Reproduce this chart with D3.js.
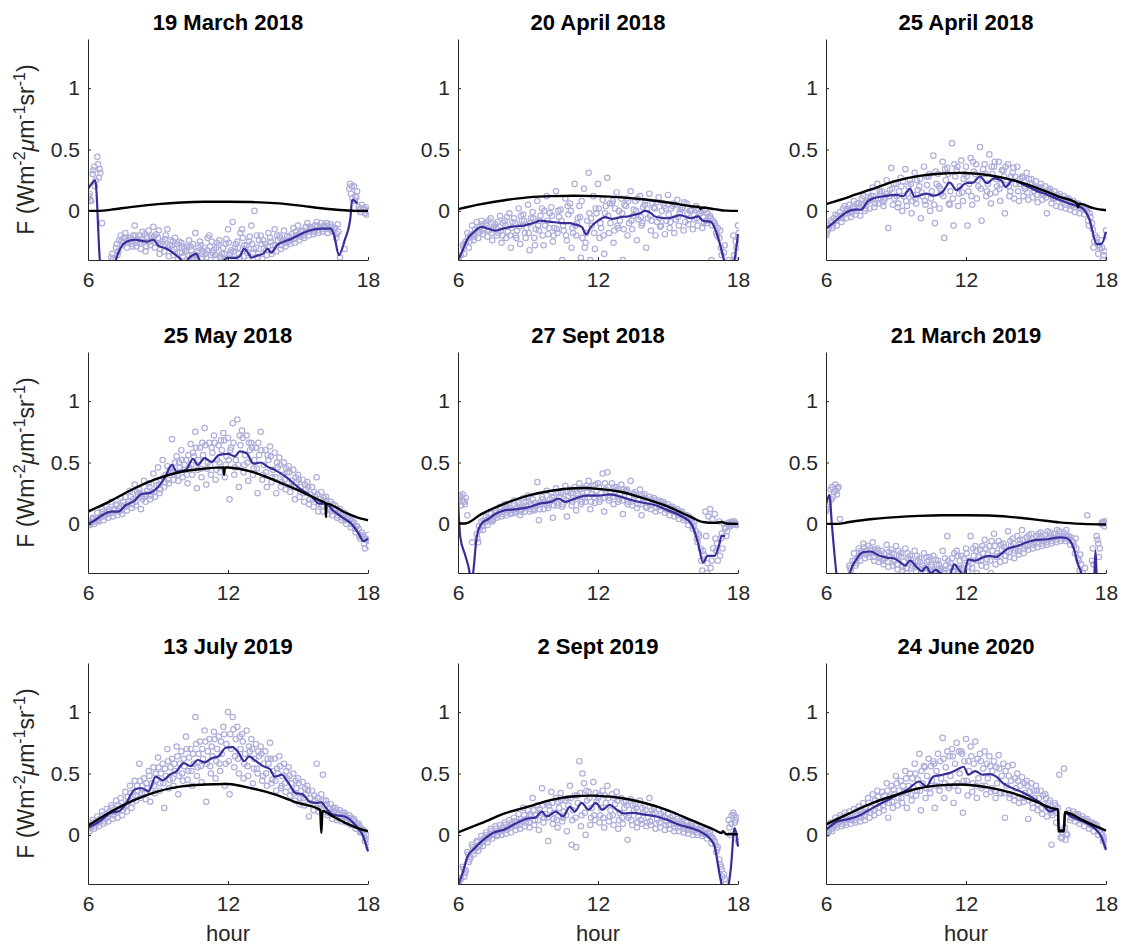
<!DOCTYPE html>
<html>
<head>
<meta charset="utf-8">
<script src="https://cdn.jsdelivr.net/npm/d3@7"></script>
<style>
  body { margin: 0; background: #fff; }
  svg { display: block; font-family: "Liberation Sans", Arial, Helvetica, sans-serif; }
</style>
</head>
<body>
<div id="chart"></div>
<script>
// panel titles, left to right, top to bottom
var titles = ["19 March 2018", "20 April 2018", "25 April 2018",
              "25 May 2018", "27 Sept 2018", "21 March 2019",
              "13 July 2019", "2 Sept 2019", "24 June 2020"];

var xTicks = [6, 12, 18];
var yTicks = [0, 0.5, 1];

// scatter samples: every 0.2 h from 6 to 18, five samples per slot
var sampleHours = d3.range(61).map(function (i) { return 6 + i * 0.2; });
var sampleOffsets = [0, 0.067, 0.133, 0.033, 0.1];

var scatter1 = [
  [0.10,0.30,0.44,-0.10,null,-0.38,-0.30,-0.20,-0.18,-0.22,-0.12,-0.20,-0.25,-0.16,-0.13,-0.22,-0.25,-0.15,-0.28,-0.30,-0.26,-0.33,-0.29,-0.18,-0.25,-0.30,-0.20,-0.32,-0.28,-0.30,-0.15,-0.09,-0.25,-0.15,-0.28,-0.12,-0.30,-0.20,-0.27,-0.22,-0.15,-0.20,-0.16,-0.25,-0.14,-0.12,-0.16,-0.10,-0.14,-0.09,-0.10,-0.12,-0.11,-0.14,-0.38,-0.31,0.18,0.20,0.03,0.01,0.00],
  [0.14,0.36,0.27,null,null,-0.40,-0.36,-0.28,-0.30,-0.27,-0.29,-0.31,-0.33,-0.28,-0.30,-0.35,-0.33,-0.37,-0.36,-0.39,-0.37,-0.40,-0.36,-0.39,-0.35,-0.38,-0.36,-0.39,-0.37,-0.40,-0.36,-0.39,-0.35,-0.37,-0.40,-0.34,-0.38,-0.39,-0.36,-0.35,-0.33,-0.31,-0.29,-0.27,-0.26,-0.24,-0.22,-0.20,-0.19,-0.18,-0.17,-0.18,-0.16,-0.19,null,null,0.14,0.12,-0.01,-0.02,0.01],
  [0.08,0.25,0.31,null,null,null,-0.24,-0.22,-0.26,-0.20,-0.24,-0.17,-0.21,-0.22,-0.19,-0.27,-0.20,-0.24,-0.22,-0.34,-0.31,-0.24,-0.38,-0.30,-0.33,-0.22,-0.34,-0.26,-0.35,-0.23,-0.32,-0.27,-0.18,-0.31,-0.21,0.00,-0.24,-0.31,-0.18,-0.28,-0.24,-0.25,-0.21,-0.19,-0.20,-0.17,-0.13,-0.15,-0.12,-0.14,-0.13,-0.15,-0.14,-0.17,null,null,0.10,0.16,0.05,-0.03,0.00],
  [0.12,0.33,0.38,null,null,-0.35,-0.27,-0.25,-0.22,-0.25,-0.20,-0.26,-0.19,-0.25,-0.21,-0.16,-0.28,-0.30,-0.25,-0.27,-0.34,-0.29,-0.32,-0.36,-0.28,-0.35,-0.29,-0.36,-0.24,-0.35,-0.26,-0.33,-0.30,-0.22,-0.34,-0.27,-0.20,-0.27,-0.32,-0.25,-0.28,-0.22,-0.24,-0.21,-0.23,-0.19,-0.20,-0.17,-0.16,-0.12,-0.15,-0.10,-0.13,-0.22,null,null,0.22,0.08,0.01,0.02,-0.01],
  [0.09,0.20,0.34,null,null,null,-0.33,-0.26,-0.24,-0.29,-0.26,-0.23,-0.29,-0.20,-0.26,-0.31,-0.23,-0.28,-0.31,-0.25,-0.29,-0.36,-0.27,-0.33,-0.38,-0.32,-0.25,-0.30,-0.38,-0.27,-0.34,-0.30,-0.38,-0.28,-0.25,-0.31,-0.35,-0.24,-0.29,-0.32,-0.20,-0.28,-0.26,-0.23,-0.17,-0.21,-0.18,-0.13,-0.17,-0.16,-0.12,-0.14,-0.17,-0.11,null,null,0.20,0.11,0.02,0.03,-0.02]
];
var scatter2 = [
  [-0.40,-0.28,-0.18,-0.12,-0.09,-0.08,-0.10,-0.06,-0.11,-0.04,-0.08,-0.02,-0.06,0.02,-0.03,0.05,-0.01,0.08,0.02,0.12,0.03,0.16,0.01,0.10,0.06,0.22,0.04,0.18,0.31,0.12,0.22,0.09,0.27,0.06,0.15,0.10,0.04,0.16,0.08,0.12,0.05,0.14,0.03,0.11,0.06,0.13,0.04,0.09,0.02,0.06,0.00,0.04,-0.02,0.01,-0.04,-0.10,-0.22,-0.34,-0.40,-0.20,-0.12],
  [null,-0.35,-0.30,-0.24,-0.22,-0.19,-0.21,-0.24,-0.20,-0.26,-0.22,-0.30,-0.20,-0.27,-0.18,-0.32,-0.22,-0.16,-0.28,-0.19,-0.25,-0.18,-0.40,-0.24,-0.30,-0.20,-0.38,-0.26,-0.40,-0.31,-0.22,-0.35,-0.18,-0.26,-0.14,-0.40,-0.20,-0.15,-0.24,-0.12,-0.30,-0.16,-0.20,-0.13,-0.19,-0.14,-0.18,-0.12,-0.16,-0.11,-0.15,-0.12,-0.14,-0.10,-0.40,-0.18,-0.30,null,null,-0.40,-0.15],
  [-0.36,-0.25,-0.20,-0.15,-0.13,-0.14,-0.16,-0.13,-0.18,-0.10,-0.17,-0.09,-0.16,-0.08,-0.14,-0.06,-0.15,-0.04,-0.12,-0.02,-0.14,-0.05,-0.16,-0.03,-0.18,-0.06,-0.22,-0.08,-0.12,-0.02,-0.14,0.04,-0.10,0.02,-0.08,0.05,-0.10,0.01,-0.07,0.03,-0.06,0.06,-0.09,0.00,-0.08,0.02,-0.07,0.01,-0.09,0.00,-0.07,-0.02,-0.09,-0.05,-0.08,-0.14,null,null,null,-0.30,-0.13],
  [-0.38,-0.30,-0.22,-0.19,-0.16,-0.11,-0.12,-0.18,-0.14,-0.16,-0.12,-0.20,-0.10,-0.13,-0.08,-0.18,-0.06,-0.12,-0.20,-0.08,-0.04,-0.15,-0.08,-0.20,0.00,-0.12,-0.05,-0.30,-0.02,-0.18,0.02,-0.20,-0.04,0.08,-0.12,-0.02,0.10,-0.08,0.00,-0.05,0.08,-0.04,0.02,-0.06,0.04,-0.03,0.06,-0.05,0.03,-0.02,0.01,-0.06,0.00,-0.08,-0.06,-0.12,-0.16,-0.28,null,-0.36,-0.18],
  [null,-0.27,-0.25,-0.21,-0.18,-0.16,-0.08,-0.15,-0.09,-0.20,-0.05,-0.14,-0.22,-0.04,-0.22,-0.10,-0.28,-0.08,0.00,-0.14,-0.20,0.00,-0.12,0.04,-0.14,-0.10,0.08,-0.18,-0.06,0.02,-0.10,-0.02,0.06,-0.16,0.00,-0.15,0.08,-0.04,0.10,-0.10,0.02,-0.08,0.07,-0.12,0.02,-0.09,0.05,-0.02,0.07,-0.07,-0.03,0.02,-0.05,-0.02,-0.12,-0.20,-0.36,null,null,-0.25,-0.20]
];
var scatter3 = [
  [-0.20,-0.08,-0.03,-0.01,0.04,0.05,0.08,0.06,0.12,0.15,0.19,0.22,0.16,0.25,0.35,0.22,0.27,0.34,0.25,0.31,0.20,0.36,0.28,0.45,0.30,0.40,0.35,0.55,0.33,0.41,0.36,0.43,0.30,0.52,0.38,0.46,0.36,0.40,0.33,0.38,0.31,0.36,0.28,0.31,0.26,0.24,0.22,0.20,0.18,0.16,0.14,0.12,0.10,0.08,0.06,0.04,0.00,-0.10,-0.22,-0.24,-0.16],
  [-0.16,-0.14,-0.12,-0.09,-0.06,-0.05,-0.03,-0.04,0.00,0.02,0.03,0.06,0.04,-0.14,0.05,0.03,0.00,0.04,-0.02,0.06,-0.06,0.05,0.00,-0.10,0.02,-0.22,0.06,-0.12,0.04,0.08,-0.12,0.05,0.10,-0.08,0.12,0.06,0.15,0.08,-0.02,0.12,0.10,0.08,0.12,0.09,0.11,0.07,0.09,-0.02,0.06,0.04,0.03,0.02,0.01,-0.01,-0.02,-0.03,-0.12,-0.30,-0.35,-0.40,-0.22],
  [-0.12,-0.06,-0.06,0.02,0.00,0.03,0.06,0.10,0.07,0.12,0.09,0.14,0.11,0.17,0.10,0.16,0.12,0.20,0.13,0.17,0.12,0.21,0.16,0.22,0.14,0.25,0.16,0.28,0.20,0.30,0.22,0.32,0.20,0.34,0.22,0.30,0.20,0.33,0.25,0.28,0.22,0.26,0.18,0.22,0.16,0.19,0.13,0.17,0.10,0.12,0.07,0.09,0.04,0.06,0.02,0.01,-0.05,-0.20,-0.30,-0.33,-0.19],
  [-0.18,-0.10,-0.08,-0.04,-0.02,0.00,0.02,0.03,0.05,0.08,0.12,0.10,0.07,0.14,0.18,0.12,0.20,0.08,0.22,0.10,0.26,0.08,0.30,0.05,0.20,0.12,0.30,0.10,0.36,0.15,0.28,0.12,0.38,0.18,0.30,0.14,0.40,0.18,0.28,0.20,0.35,0.16,0.27,0.15,0.22,0.13,0.19,0.11,0.15,0.10,0.11,0.05,0.08,0.03,0.04,0.01,-0.08,-0.15,-0.26,-0.30,-0.20],
  [-0.14,-0.12,-0.04,-0.06,0.02,-0.02,0.00,0.05,0.02,0.10,0.06,0.16,0.09,0.12,0.22,0.06,0.24,0.14,0.08,0.25,0.15,0.28,0.10,0.32,0.18,0.34,0.05,0.38,0.14,0.26,0.16,0.40,0.25,0.30,0.16,0.36,0.26,0.22,0.36,0.16,0.28,0.22,0.20,0.26,0.19,0.18,0.14,0.16,0.12,0.13,0.09,0.10,0.06,0.05,0.03,0.02,-0.02,-0.25,-0.28,-0.36,-0.24]
];
var scatter4 = [
  [0.02,0.05,0.09,0.12,0.14,0.18,0.15,0.21,0.22,0.27,0.32,0.28,0.35,0.33,0.41,0.46,0.52,0.47,0.69,0.55,0.60,0.52,0.65,0.75,0.62,0.78,0.66,0.72,0.64,0.74,0.70,0.82,0.85,0.76,0.72,0.66,0.62,0.75,0.60,0.63,0.58,0.54,0.50,0.47,0.44,0.40,0.36,0.34,0.30,0.38,0.26,0.22,0.18,0.15,0.12,0.09,0.06,0.01,-0.04,-0.10,-0.09],
  [-0.01,0.00,0.02,0.03,0.05,0.06,0.07,0.08,0.11,0.13,0.15,0.12,0.18,0.20,0.22,0.25,0.30,0.33,0.36,0.35,0.38,0.33,0.40,0.29,0.38,0.32,0.40,0.36,0.42,0.38,0.20,0.40,0.30,0.42,0.35,0.40,0.25,0.36,0.30,0.34,0.25,0.30,0.28,0.26,0.20,0.22,0.18,0.16,0.14,0.10,0.10,0.08,0.07,0.05,0.03,0.00,-0.03,-0.07,-0.12,-0.20,-0.15],
  [0.01,0.03,0.06,0.08,0.10,0.12,0.13,0.15,0.18,0.20,0.24,0.20,0.27,0.26,0.31,0.36,0.40,0.42,0.50,0.46,0.48,0.46,0.55,0.52,0.56,0.50,0.58,0.52,0.60,0.55,0.62,0.52,0.64,0.56,0.60,0.52,0.56,0.48,0.52,0.44,0.46,0.40,0.42,0.35,0.34,0.30,0.28,0.24,0.22,0.20,0.18,0.14,0.12,0.10,0.07,0.05,0.02,-0.02,-0.07,-0.13,-0.11],
  [0.00,0.04,0.03,0.10,0.08,0.09,0.16,0.11,0.14,0.22,0.18,0.25,0.22,0.30,0.26,0.32,0.38,0.36,0.42,0.40,0.52,0.40,0.48,0.62,0.45,0.64,0.48,0.66,0.50,0.68,0.52,0.66,0.48,0.70,0.50,0.62,0.45,0.60,0.42,0.55,0.38,0.48,0.36,0.42,0.30,0.36,0.25,0.30,0.20,0.24,0.15,0.19,0.10,0.12,0.09,0.03,0.04,-0.04,-0.10,-0.16,-0.18],
  [0.02,0.02,0.05,0.06,0.12,0.11,0.10,0.18,0.16,0.16,0.26,0.22,0.24,0.23,0.35,0.28,0.34,0.44,0.40,0.50,0.44,0.56,0.58,0.44,0.66,0.45,0.62,0.44,0.68,0.48,0.60,0.46,0.72,0.48,0.66,0.45,0.66,0.40,0.56,0.38,0.50,0.34,0.45,0.30,0.38,0.26,0.32,0.20,0.26,0.16,0.21,0.12,0.16,0.07,0.05,0.06,0.00,-0.02,-0.09,-0.12,-0.13]
];
var scatter5 = [
  [0.20,0.24,0.07,-0.15,-0.08,0.02,0.06,0.08,0.11,0.14,0.16,0.15,0.19,0.17,0.21,0.23,0.20,0.34,0.22,0.27,0.25,0.29,0.26,0.31,0.28,0.30,0.33,0.29,0.35,0.31,0.33,0.41,0.42,0.33,0.30,0.32,0.27,0.35,0.26,0.28,0.24,0.22,0.21,0.19,0.18,0.16,0.14,0.12,0.10,0.07,0.04,-0.06,-0.20,0.10,0.12,0.08,0.02,0.00,0.01,0.00,null],
  [0.22,0.18,null,null,-0.15,-0.05,-0.01,0.02,0.05,0.06,0.07,0.08,0.09,0.07,0.10,0.10,0.11,0.03,0.12,0.13,0.05,0.15,0.14,0.06,0.15,0.11,0.16,0.18,0.12,0.17,0.18,0.10,0.19,0.16,0.18,0.08,0.16,0.15,0.13,0.07,0.13,0.12,0.10,0.11,0.09,0.07,0.06,0.04,0.03,-0.01,-0.04,-0.15,-0.38,-0.40,-0.30,-0.22,-0.12,-0.03,-0.02,0.01,null],
  [0.15,0.21,null,null,-0.05,0.01,0.04,0.06,0.08,0.10,0.12,0.11,0.14,0.12,0.15,0.16,0.14,0.18,0.16,0.20,0.19,0.22,0.20,0.23,0.21,0.25,0.22,0.26,0.24,0.27,0.25,0.28,0.26,0.27,0.24,0.26,0.22,0.24,0.20,0.21,0.19,0.18,0.17,0.16,0.14,0.13,0.11,0.09,0.07,0.05,0.02,-0.10,-0.25,0.06,-0.20,-0.30,-0.20,-0.06,0.02,-0.01,null],
  [0.18,0.19,null,null,-0.12,-0.02,0.02,0.04,0.09,0.12,0.09,0.13,0.10,0.15,0.13,0.18,0.12,0.16,0.20,0.15,0.22,0.17,0.25,0.19,0.25,0.20,0.28,0.21,0.29,0.22,0.30,0.21,0.30,0.22,0.28,0.19,0.28,0.18,0.23,0.16,0.21,0.15,0.19,0.14,0.16,0.11,0.12,0.07,0.08,0.03,0.01,-0.12,-0.30,-0.10,-0.36,-0.12,-0.26,-0.04,0.00,0.02,null],
  [0.23,0.16,null,null,-0.02,0.03,0.05,0.03,0.07,0.08,0.14,0.09,0.12,0.10,0.18,0.12,0.17,0.12,0.18,0.17,0.15,0.25,0.16,0.26,0.18,0.27,0.18,0.31,0.18,0.32,0.20,0.33,0.21,0.30,0.20,0.28,0.18,0.25,0.16,0.23,0.14,0.20,0.13,0.18,0.12,0.14,0.10,0.10,0.05,0.06,-0.02,-0.08,-0.22,-0.32,0.04,-0.16,-0.08,-0.10,-0.01,0.00,null]
];
var scatter6 = [
  [0.10,0.28,0.32,0.04,null,-0.34,-0.24,-0.20,-0.16,-0.18,-0.15,-0.20,-0.22,-0.17,-0.21,-0.18,-0.24,-0.20,-0.26,-0.22,-0.28,-0.24,-0.30,-0.26,-0.30,-0.22,-0.10,-0.28,-0.22,-0.26,-0.20,-0.10,-0.18,-0.21,-0.13,-0.18,-0.08,-0.14,-0.16,-0.06,-0.12,-0.10,-0.05,-0.11,-0.08,-0.10,-0.07,-0.09,-0.07,-0.08,-0.06,-0.07,-0.10,-0.15,-0.28,-0.40,0.07,-0.30,-0.10,0.00,0.02],
  [0.14,0.30,0.24,null,null,-0.38,-0.34,-0.30,-0.28,-0.27,-0.30,-0.31,-0.33,-0.35,-0.34,-0.37,-0.38,-0.40,-0.36,-0.39,-0.40,-0.40,-0.38,-0.40,-0.39,-0.40,-0.40,-0.39,-0.37,-0.40,-0.39,-0.36,-0.40,-0.34,-0.35,-0.40,-0.33,-0.31,-0.30,-0.27,-0.28,-0.25,-0.24,-0.21,-0.20,-0.19,-0.18,-0.17,-0.16,-0.15,-0.14,-0.14,-0.17,-0.24,-0.38,null,null,-0.33,-0.16,0.01,0.01],
  [0.18,0.26,0.30,null,null,-0.30,-0.28,-0.24,-0.22,-0.22,-0.24,-0.26,-0.28,-0.26,-0.29,-0.26,-0.31,-0.28,-0.32,-0.30,-0.34,-0.31,-0.35,-0.33,-0.36,-0.34,-0.32,-0.35,-0.30,-0.34,-0.30,-0.26,-0.27,-0.24,-0.25,-0.22,-0.24,-0.21,-0.22,-0.18,-0.20,-0.16,-0.18,-0.14,-0.15,-0.12,-0.14,-0.11,-0.12,-0.10,-0.10,-0.11,-0.14,-0.20,-0.33,null,null,null,-0.20,-0.02,0.02],
  [0.12,0.20,0.27,null,null,-0.36,-0.30,-0.26,-0.19,-0.24,-0.27,-0.22,-0.30,-0.31,-0.24,-0.33,-0.27,-0.36,-0.29,-0.35,-0.31,-0.36,-0.27,-0.38,-0.33,-0.37,-0.30,-0.38,-0.26,-0.36,-0.24,-0.32,-0.22,-0.30,-0.20,-0.30,-0.18,-0.26,-0.19,-0.23,-0.16,-0.22,-0.13,-0.18,-0.12,-0.16,-0.10,-0.15,-0.09,-0.13,-0.08,-0.12,-0.12,-0.18,-0.30,null,null,-0.20,-0.13,0.01,0.00],
  [0.16,0.22,0.29,null,null,null,-0.32,-0.22,-0.25,-0.20,-0.21,-0.28,-0.24,-0.23,-0.31,-0.22,-0.35,-0.24,-0.34,-0.26,-0.37,-0.27,-0.33,-0.29,-0.38,-0.28,-0.35,-0.24,-0.36,-0.28,-0.35,-0.20,-0.30,-0.18,-0.29,-0.14,-0.27,-0.17,-0.26,-0.14,-0.22,-0.13,-0.20,-0.09,-0.17,-0.08,-0.16,-0.06,-0.14,-0.05,-0.12,-0.05,-0.11,-0.12,-0.25,-0.36,null,null,-0.27,0.02,0.01]
];
var scatter7 = [
  [0.08,0.12,0.15,0.19,0.21,0.24,0.28,0.30,0.35,0.40,0.44,0.58,0.46,0.52,0.55,0.63,0.58,0.70,0.62,0.72,0.68,0.80,0.70,0.96,0.76,0.85,0.78,0.84,0.80,0.88,1.00,0.96,0.88,0.82,0.85,0.78,0.74,0.72,0.68,0.75,0.62,0.64,0.58,0.55,0.50,0.46,0.43,0.40,0.36,0.58,0.33,0.28,0.25,0.22,0.20,0.18,0.16,0.13,0.09,0.04,-0.08],
  [0.03,0.05,0.07,0.09,0.11,0.13,0.14,0.16,0.19,0.22,0.28,0.30,0.29,0.27,0.34,0.36,0.22,0.38,0.40,0.33,0.44,0.45,0.40,0.48,0.43,0.27,0.50,0.46,0.52,0.40,0.33,0.55,0.50,0.46,0.48,0.42,0.50,0.44,0.40,0.42,0.36,0.38,0.35,0.32,0.28,0.25,0.24,0.15,0.20,0.19,0.49,0.16,0.13,0.12,0.11,0.10,0.08,0.05,0.02,-0.05,-0.16],
  [0.06,0.09,0.12,0.14,0.17,0.19,0.21,0.23,0.27,0.31,0.36,0.40,0.38,0.42,0.45,0.50,0.48,0.55,0.52,0.58,0.56,0.63,0.58,0.66,0.62,0.68,0.64,0.70,0.66,0.74,0.70,0.78,0.70,0.66,0.68,0.62,0.64,0.58,0.58,0.52,0.50,0.48,0.46,0.42,0.38,0.36,0.33,0.30,0.28,0.25,0.24,0.21,0.19,0.17,0.16,0.14,0.12,0.09,0.05,0.00,-0.12],
  [0.05,0.10,0.10,0.16,0.14,0.22,0.18,0.26,0.24,0.34,0.32,0.44,0.34,0.48,0.40,0.55,0.42,0.60,0.46,0.64,0.50,0.70,0.52,0.74,0.56,0.76,0.56,0.78,0.58,0.82,0.60,0.86,0.62,0.76,0.56,0.70,0.54,0.66,0.50,0.62,0.44,0.56,0.42,0.48,0.34,0.42,0.30,0.36,0.25,0.30,0.22,0.25,0.17,0.20,0.14,0.16,0.10,0.11,0.07,0.02,-0.10],
  [0.07,0.07,0.13,0.11,0.19,0.16,0.24,0.20,0.31,0.26,0.40,0.34,0.42,0.36,0.50,0.42,0.54,0.45,0.58,0.48,0.62,0.52,0.66,0.55,0.70,0.58,0.72,0.60,0.76,0.58,0.82,0.64,0.80,0.58,0.72,0.54,0.68,0.48,0.62,0.45,0.54,0.40,0.52,0.36,0.44,0.30,0.38,0.26,0.32,0.22,0.28,0.18,0.22,0.14,0.18,0.12,0.14,0.07,0.03,-0.03,-0.14]
];
var scatter8 = [
  [-0.38,-0.26,-0.14,-0.08,-0.05,-0.01,0.02,0.05,0.07,0.08,0.10,0.12,0.14,0.17,0.22,0.20,0.30,0.24,0.38,0.26,0.35,0.30,0.34,0.28,0.40,0.32,0.60,0.42,0.35,0.43,0.30,0.36,0.40,0.33,0.35,0.30,0.27,0.29,0.25,0.28,0.24,0.30,0.22,0.21,0.19,0.17,0.15,0.13,0.11,0.10,0.09,0.07,0.06,0.04,0.02,-0.05,-0.20,-0.32,0.12,0.18,-0.05],
  [null,-0.34,-0.22,-0.16,-0.13,-0.09,-0.06,-0.03,-0.01,0.00,0.01,0.02,0.04,0.05,0.07,0.06,0.08,0.04,0.10,-0.05,0.09,0.06,0.11,0.03,-0.08,-0.10,0.07,0.00,0.08,0.12,0.10,0.06,0.11,0.08,0.05,0.09,-0.04,0.08,0.06,0.09,0.07,0.08,0.05,0.06,0.04,0.05,0.03,0.03,0.02,0.01,0.00,0.00,-0.01,-0.03,-0.07,-0.14,-0.26,-0.40,0.00,0.10,-0.10],
  [-0.35,-0.29,-0.18,-0.11,-0.08,-0.04,-0.01,0.01,0.03,0.05,0.06,0.08,0.10,0.11,0.13,0.15,0.16,0.18,0.17,0.20,0.18,0.22,0.19,0.24,0.20,0.26,0.50,0.28,0.22,0.27,0.22,0.26,0.20,0.25,0.18,0.22,0.16,0.20,0.15,0.18,0.14,0.17,0.13,0.14,0.11,0.12,0.09,0.09,0.07,0.06,0.05,0.04,0.02,0.01,-0.03,-0.10,-0.34,null,0.16,0.14,-0.08],
  [-0.40,-0.28,-0.16,-0.10,-0.06,-0.06,0.00,0.03,0.05,0.03,0.08,0.06,0.11,0.08,0.16,0.10,0.20,0.12,0.24,0.14,0.26,0.12,0.28,0.16,0.30,0.14,0.34,0.18,0.30,0.16,0.32,0.14,0.30,0.16,0.28,0.14,0.24,0.12,0.22,0.12,0.20,0.11,0.18,0.10,0.15,0.08,0.12,0.06,0.09,0.04,0.07,0.02,0.04,0.00,-0.01,-0.08,-0.24,-0.36,0.06,0.16,-0.06],
  [-0.37,-0.31,-0.20,-0.13,-0.10,-0.03,-0.03,0.00,0.00,0.06,0.04,0.10,0.07,0.13,0.10,0.17,0.12,0.21,0.14,0.24,0.13,0.27,0.14,0.30,0.12,0.32,0.16,0.36,0.14,0.34,0.16,0.32,0.15,0.30,0.12,0.27,0.14,0.24,0.10,0.22,0.10,0.20,0.09,0.17,0.08,0.14,0.06,0.11,0.05,0.08,0.03,0.05,0.01,0.02,-0.02,-0.12,-0.28,null,0.09,0.12,-0.12]
];
var scatter9 = [
  [0.06,0.10,0.14,0.16,0.18,0.19,0.21,0.23,0.26,0.30,0.33,0.36,0.35,0.42,0.40,0.48,0.44,0.52,0.50,0.58,0.66,0.56,0.62,0.60,0.66,0.79,0.68,0.70,0.75,0.68,0.78,0.72,0.76,0.66,0.68,0.64,0.60,0.65,0.58,0.56,0.57,0.50,0.47,0.44,0.42,0.40,0.36,0.33,0.28,0.26,0.49,0.54,0.20,0.19,0.17,0.15,0.13,0.10,0.08,0.02,-0.08],
  [0.01,0.03,0.06,0.07,0.08,0.09,0.10,0.11,0.12,0.14,0.16,0.18,0.20,0.14,0.22,0.24,0.26,0.22,0.28,0.32,0.20,0.30,0.34,0.22,0.36,0.30,0.38,0.26,0.36,0.18,0.32,0.35,0.30,0.38,0.33,0.35,0.30,0.34,0.14,0.30,0.28,0.26,0.27,0.13,0.22,0.20,0.17,0.15,-0.08,0.10,-0.02,-0.04,0.12,0.11,0.09,0.07,0.05,0.03,0.00,-0.05,-0.14],
  [0.03,0.07,0.10,0.12,0.13,0.14,0.16,0.17,0.19,0.22,0.25,0.27,0.28,0.31,0.33,0.36,0.35,0.40,0.39,0.45,0.42,0.48,0.44,0.52,0.46,0.55,0.48,0.58,0.50,0.60,0.52,0.58,0.46,0.54,0.46,0.52,0.42,0.48,0.40,0.44,0.38,0.40,0.34,0.35,0.30,0.30,0.25,0.26,0.20,0.22,0.02,0.00,0.16,0.15,0.13,0.11,0.09,0.07,0.04,-0.02,-0.11],
  [0.02,0.05,0.08,0.14,0.10,0.16,0.12,0.20,0.15,0.26,0.20,0.31,0.24,0.36,0.27,0.42,0.30,0.46,0.33,0.50,0.36,0.55,0.38,0.58,0.40,0.62,0.40,0.64,0.42,0.66,0.44,0.64,0.40,0.60,0.40,0.56,0.36,0.54,0.34,0.48,0.32,0.44,0.30,0.40,0.26,0.36,0.22,0.30,0.18,0.24,0.04,0.06,0.18,0.14,0.15,0.12,0.11,0.08,0.06,0.00,-0.10],
  [0.04,0.08,0.12,0.09,0.16,0.12,0.19,0.14,0.22,0.18,0.28,0.22,0.32,0.26,0.37,0.30,0.40,0.34,0.46,0.36,0.52,0.38,0.56,0.40,0.60,0.42,0.64,0.40,0.68,0.44,0.60,0.42,0.62,0.40,0.58,0.38,0.55,0.34,0.52,0.33,0.46,0.30,0.42,0.28,0.36,0.25,0.32,0.22,0.16,0.18,-0.03,0.01,0.14,0.17,0.12,0.13,0.08,0.09,0.03,-0.04,-0.13]
];
var scatterSets = [scatter1, scatter2, scatter3, scatter4, scatter5, scatter6, scatter7, scatter8, scatter9];

// running mean of the measurements, [hour, F]
var obs1 = [[6.0,0.18],[6.15,0.22],[6.31,0.25],[6.53,-0.45],[6.8,-0.6],[7.0,-0.6],[7.17,-0.42],[7.4,-0.3],[7.67,-0.25],[8.0,-0.235],[8.2,-0.24],[8.5,-0.25],[8.8,-0.235],[9.0,-0.28],[9.4,-0.31],[9.7,-0.35],[10.0,-0.4],[10.15,-0.44],[10.3,-0.39],[10.5,-0.36],[10.65,-0.35],[10.8,-0.42],[11.0,-0.5],[11.5,-0.5],[11.75,-0.42],[12.0,-0.38],[12.3,-0.385],[12.5,-0.37],[12.7,-0.31],[12.9,-0.355],[13.0,-0.38],[13.3,-0.36],[13.5,-0.35],[13.7,-0.31],[13.85,-0.34],[14.1,-0.28],[14.4,-0.25],[14.7,-0.23],[15.1,-0.19],[15.5,-0.16],[16.0,-0.145],[16.4,-0.145],[16.55,-0.2],[16.75,-0.36],[17.0,-0.24],[17.25,-0.05],[17.32,0.09],[17.55,0.06]];
var obs2 = [[6.0,-0.40],[6.2,-0.32],[6.4,-0.23],[6.7,-0.17],[7.0,-0.13],[7.3,-0.145],[7.6,-0.16],[8.0,-0.14],[8.3,-0.13],[8.5,-0.125],[8.8,-0.12],[9.0,-0.11],[9.3,-0.095],[9.5,-0.08],[9.8,-0.085],[10.0,-0.09],[10.3,-0.095],[10.5,-0.1],[10.8,-0.1],[11.0,-0.11],[11.3,-0.13],[11.5,-0.19],[11.7,-0.13],[12.0,-0.08],[12.3,-0.05],[12.6,-0.065],[13.0,-0.05],[13.3,-0.045],[13.5,-0.035],[13.8,-0.02],[14.0,0.0],[14.2,-0.01],[14.5,-0.05],[15.0,-0.06],[15.3,-0.045],[15.5,-0.035],[16.0,-0.06],[16.3,-0.045],[16.5,-0.08],[16.85,-0.09],[17.1,-0.19],[17.4,-0.4],[17.6,-0.55],[17.85,-0.4],[18.0,-0.19]];
var obs3 = [[6.0,-0.145],[6.3,-0.1],[6.6,-0.05],[7.0,0.0],[7.3,0.01],[7.5,0.01],[7.8,0.08],[8.0,0.1],[8.5,0.12],[9.0,0.13],[9.3,0.12],[9.6,0.18],[9.8,0.115],[10.3,0.14],[10.6,0.125],[11.0,0.155],[11.3,0.23],[11.6,0.17],[12.0,0.225],[12.3,0.23],[12.6,0.28],[12.9,0.225],[13.2,0.265],[13.5,0.25],[13.7,0.195],[14.0,0.25],[14.5,0.21],[15.0,0.165],[15.5,0.13],[16.0,0.09],[16.5,0.055],[17.0,0.02],[17.3,-0.075],[17.6,-0.27],[17.8,-0.27],[18.0,-0.17]];
var obs4 = [[6.0,0.0],[6.3,0.03],[6.6,0.07],[7.0,0.1],[7.3,0.1],[7.6,0.15],[8.0,0.19],[8.3,0.245],[8.6,0.25],[9.0,0.3],[9.3,0.38],[9.6,0.48],[9.8,0.425],[10.2,0.44],[10.5,0.53],[10.7,0.48],[11.0,0.535],[11.3,0.505],[11.6,0.56],[12.0,0.57],[12.3,0.55],[12.5,0.59],[12.8,0.575],[13.1,0.49],[13.4,0.5],[13.7,0.465],[14.0,0.44],[14.5,0.38],[15.0,0.3],[15.3,0.26],[15.6,0.22],[15.9,0.165],[16.2,0.165],[16.5,0.11],[17.0,0.04],[17.3,0.0],[17.6,-0.08],[17.8,-0.14],[18.0,-0.12]];
var obs5 = [[6.0,0.19],[6.1,-0.11],[6.3,-0.25],[6.5,-0.4],[6.57,-0.5],[6.65,-0.4],[6.8,-0.11],[7.0,0.0],[7.3,0.04],[7.6,0.08],[8.0,0.11],[8.5,0.12],[9.0,0.135],[9.5,0.165],[10.0,0.18],[10.3,0.205],[10.6,0.18],[11.0,0.205],[11.5,0.23],[12.0,0.23],[12.5,0.24],[13.0,0.22],[13.5,0.19],[14.0,0.17],[14.5,0.15],[15.0,0.11],[15.5,0.07],[16.0,0.0],[16.3,-0.165],[16.5,-0.315],[16.7,-0.26],[17.0,-0.26],[17.2,-0.165],[17.3,-0.095],[17.45,-0.1]];
var obs6 = [[6.0,0.165],[6.15,0.235],[6.25,0.0],[6.45,-0.41],[6.6,-0.6],[6.9,-0.6],[7.0,-0.42],[7.3,-0.29],[7.6,-0.23],[7.9,-0.225],[8.3,-0.26],[8.6,-0.275],[8.9,-0.28],[9.2,-0.315],[9.4,-0.34],[9.6,-0.3],[9.9,-0.355],[10.1,-0.385],[10.3,-0.35],[10.5,-0.4],[10.7,-0.375],[11.0,-0.41],[11.3,-0.41],[11.5,-0.33],[11.7,-0.375],[11.9,-0.41],[12.1,-0.29],[12.4,-0.3],[12.7,-0.275],[13.0,-0.26],[13.3,-0.27],[13.5,-0.245],[13.8,-0.2],[14.2,-0.18],[14.6,-0.15],[15.0,-0.13],[15.5,-0.125],[16.0,-0.11],[16.3,-0.115],[16.6,-0.19],[16.8,-0.33],[16.95,-0.41],[17.1,-0.6],[17.4,-0.6],[17.5,-0.42],[17.55,-0.22],[17.6,-0.42],[17.7,-0.6]];
var obs7 = [[6.0,0.055],[6.5,0.11],[7.0,0.18],[7.3,0.19],[7.6,0.245],[8.0,0.37],[8.3,0.38],[8.6,0.355],[8.9,0.475],[9.2,0.445],[9.5,0.49],[9.8,0.52],[10.1,0.585],[10.4,0.56],[10.7,0.61],[11.0,0.59],[11.3,0.625],[11.6,0.64],[11.9,0.71],[12.2,0.715],[12.5,0.655],[12.7,0.6],[12.9,0.64],[13.2,0.6],[13.5,0.56],[13.8,0.535],[14.0,0.475],[14.3,0.49],[14.6,0.42],[14.9,0.34],[15.2,0.33],[15.5,0.27],[15.8,0.26],[16.0,0.265],[16.2,0.22],[16.5,0.165],[17.0,0.15],[17.5,0.07],[17.8,-0.015],[18.0,-0.135]];
var obs8 = [[6.0,-0.41],[6.2,-0.31],[6.4,-0.18],[6.7,-0.11],[7.0,-0.055],[7.5,0.015],[8.0,0.045],[8.5,0.095],[9.0,0.135],[9.3,0.14],[9.6,0.19],[9.8,0.15],[10.2,0.19],[10.5,0.15],[10.8,0.23],[11.0,0.19],[11.3,0.26],[11.6,0.205],[11.9,0.26],[12.2,0.205],[12.5,0.245],[12.8,0.205],[13.1,0.175],[13.5,0.18],[14.0,0.165],[14.5,0.15],[15.0,0.12],[15.5,0.08],[16.0,0.055],[16.5,0.015],[16.8,-0.03],[17.0,-0.095],[17.2,-0.31],[17.3,-0.41],[17.45,-0.6],[17.6,-0.41],[17.7,-0.26],[17.85,0.055],[18.0,-0.095]];
var obs9 = [[6.0,0.04],[6.5,0.11],[7.0,0.13],[7.5,0.165],[8.0,0.22],[8.5,0.27],[9.0,0.32],[9.5,0.37],[10.0,0.435],[10.3,0.395],[10.6,0.475],[11.0,0.49],[11.3,0.505],[11.6,0.53],[11.9,0.555],[12.1,0.49],[12.4,0.52],[12.7,0.49],[13.0,0.495],[13.3,0.475],[13.6,0.42],[14.0,0.38],[14.5,0.34],[15.0,0.285],[15.3,0.245],[15.6,0.19],[15.93,0.21],[15.97,0.04],[16.2,0.04],[16.25,0.18],[16.5,0.15],[17.0,0.11],[17.5,0.055],[17.8,-0.015],[18.0,-0.12]];
var obsSets = [obs1, obs2, obs3, obs4, obs5, obs6, obs7, obs8, obs9];

// modelled curve, [hour, F]
var model1 = [[6,0],[6.5,0.0],[7,0.01],[8,0.035],[9,0.055],[10,0.068],[11,0.074],[12,0.075],[13,0.072],[14,0.063],[15,0.045],[16,0.022],[17,0.005],[17.5,0.0],[18,0.0]];
var model2 = [[6,0.014],[7,0.055],[8,0.087],[9,0.11],[10,0.12],[11,0.123],[12,0.12],[13,0.11],[14,0.093],[15,0.068],[16,0.038],[16.35,0.03],[16.4,0.015],[16.45,0.028],[17,0.014],[17.5,0.002],[18,0.0]];
var model3 = [[6,0.055],[7,0.115],[8,0.18],[9,0.245],[10,0.285],[11,0.305],[11.7,0.31],[12,0.308],[13,0.29],[14,0.25],[15,0.19],[16,0.115],[16.75,0.062],[16.8,0.03],[16.85,0.058],[17.5,0.02],[18,0.005]];
var model4 = [[6,0.1],[7,0.19],[8,0.29],[9,0.37],[10,0.425],[11,0.45],[11.8,0.46],[11.83,0.4],[11.87,0.46],[12,0.459],[13,0.425],[14,0.355],[15,0.275],[16,0.185],[16.18,0.17],[16.2,0.055],[16.22,0.165],[17,0.095],[17.5,0.055],[18,0.03]];
var model5 = [[6,0.005],[6.3,0.003],[7,0.08],[8,0.165],[9,0.23],[10,0.27],[11,0.29],[11.5,0.292],[12,0.285],[13,0.26],[14,0.205],[15,0.14],[16,0.055],[16.5,0.015],[17,0.008],[17.3,0.015],[17.5,0.003],[18,0.0]];
var model6 = [[6,0.0],[6.5,0.0],[7,0.015],[8,0.04],[9,0.055],[10,0.065],[11,0.07],[12,0.07],[13,0.068],[14,0.055],[15,0.035],[16,0.012],[17,0.0],[18,-0.005]];
var model7 = [[6,0.075],[7,0.19],[8,0.285],[9,0.355],[10,0.395],[11,0.41],[11.8,0.415],[12,0.414],[13,0.38],[14,0.33],[15,0.26],[15.9,0.21],[15.95,0.2],[16.0,0.015],[16.05,0.195],[16.5,0.15],[17,0.1],[17.5,0.06],[18,0.03]];
var model8 = [[6,0.02],[7,0.095],[8,0.175],[9,0.23],[10,0.285],[11,0.315],[11.7,0.32],[12,0.318],[13,0.3],[14,0.26],[15,0.2],[16,0.12],[17,0.04],[17.3,0.015],[17.35,0.03],[17.5,0.005],[18,0.005]];
var model9 = [[6,0.085],[7,0.175],[8,0.26],[9,0.325],[10,0.38],[11,0.405],[11.7,0.41],[12,0.408],[13,0.385],[14,0.34],[15,0.27],[15.9,0.21],[15.95,0.21],[15.97,0.03],[16.2,0.03],[16.23,0.185],[17,0.12],[17.5,0.075],[18,0.035]];
var modelSets = [model1, model2, model3, model4, model5, model6, model7, model8, model9];

// layout
var colX = [88, 458, 826],
    rowY = [39, 352, 663],
    width = 280,
    height = 221;

var axisColor = "#262626",
    dotColor = "#aeaedb",
    obsColor = "#392e99";

var svg = d3.select("#chart")
    .append("svg")
    .attr("width", 1122)
    .attr("height", 947);

var x = d3.scaleLinear().domain([6, 18]).range([0, width]);
var y = d3.scaleLinear().domain([-0.4, 1.4]).range([height, 0]);

var line = d3.line()
    .x(function (d) { return x(d[0]); })
    .y(function (d) { return y(d[1]); })
    .curve(d3.curveMonotoneX);

titles.forEach(function (title, i) {
    var col = i % 3, row = Math.floor(i / 3);
    var g = svg.append("g")
        .attr("transform", "translate(" + colX[col] + "," + rowY[row] + ")");

    g.append("clipPath").attr("id", "clip" + i)
        .append("rect")
        .attr("x", 0).attr("y", 0)
        .attr("width", width + 1).attr("height", height);

    var plot = g.append("g").attr("clip-path", "url(#clip" + i + ")");

    // measured samples
    var pts = [];
    scatterSets[i].forEach(function (rowVals, r) {
        rowVals.forEach(function (v, k) {
            if (v !== null && k < sampleHours.length) {
                var h = sampleHours[k] + sampleOffsets[r];
                if (h <= 18.05) pts.push([h, v]);
            }
        });
    });
    plot.selectAll("circle")
        .data(pts)
        .enter()
        .append("circle")
        .attr("cx", function (d) { return x(d[0]); })
        .attr("cy", function (d) { return y(d[1]); })
        .attr("r", 2.7)
        .attr("fill", "none")
        .attr("stroke", dotColor)
        .attr("stroke-width", 1.2);

    plot.append("path")
        .datum(obsSets[i])
        .attr("d", line)
        .attr("fill", "none")
        .attr("stroke", obsColor)
        .attr("stroke-width", 2.2)
        .attr("stroke-linejoin", "round");

    plot.append("path")
        .datum(modelSets[i])
        .attr("d", line)
        .attr("fill", "none")
        .attr("stroke", "#000")
        .attr("stroke-width", 2.4)
        .attr("stroke-linejoin", "round");

    // axes
    var xAxis = g.append("g")
        .attr("transform", "translate(0," + height + ")")
        .call(d3.axisBottom(x).tickValues(xTicks).tickSize(-3).tickSizeOuter(0).tickPadding(12));
    var yAxis = g.append("g")
        .call(d3.axisLeft(y).tickValues(yTicks).tickSize(-3).tickSizeOuter(0).tickPadding(8)
            .tickFormat(function (d) { return d; }));

    [xAxis, yAxis].forEach(function (a) {
        a.attr("color", axisColor)
            .attr("font-size", 21)
            .attr("font-family", "Liberation Sans, Arial, sans-serif");
        a.selectAll("text").attr("fill", axisColor);
    });

    g.append("text")
        .attr("x", width / 2)
        .attr("y", -9)
        .attr("text-anchor", "middle")
        .attr("font-size", 22)
        .attr("font-weight", "bold")
        .attr("fill", "#000")
        .text(title);

    if (row === 2) {
        g.append("text")
            .attr("x", width / 2)
            .attr("y", height + 57)
            .attr("text-anchor", "middle")
            .attr("font-size", 22)
            .attr("fill", axisColor)
            .text("hour");
    }

    if (col === 0) {
        var lab = g.append("text")
            .attr("transform", "translate(-54," + (height / 2) + ") rotate(-90)")
            .attr("text-anchor", "middle")
            .attr("font-size", 23)
            .attr("fill", axisColor);
        lab.append("tspan").text("F (Wm");
        lab.append("tspan").attr("dy", -9).attr("font-size", 16).text("-2");
        lab.append("tspan").attr("dy", 9).attr("font-style", "italic").text("\u03bc");
        lab.append("tspan").text("m");
        lab.append("tspan").attr("dy", -9).attr("font-size", 16).text("-1");
        lab.append("tspan").attr("dy", 9).text("sr");
        lab.append("tspan").attr("dy", -9).attr("font-size", 16).text("-1");
        lab.append("tspan").attr("dy", 9).text(")");
    }
});
</script>
</body>
</html>
